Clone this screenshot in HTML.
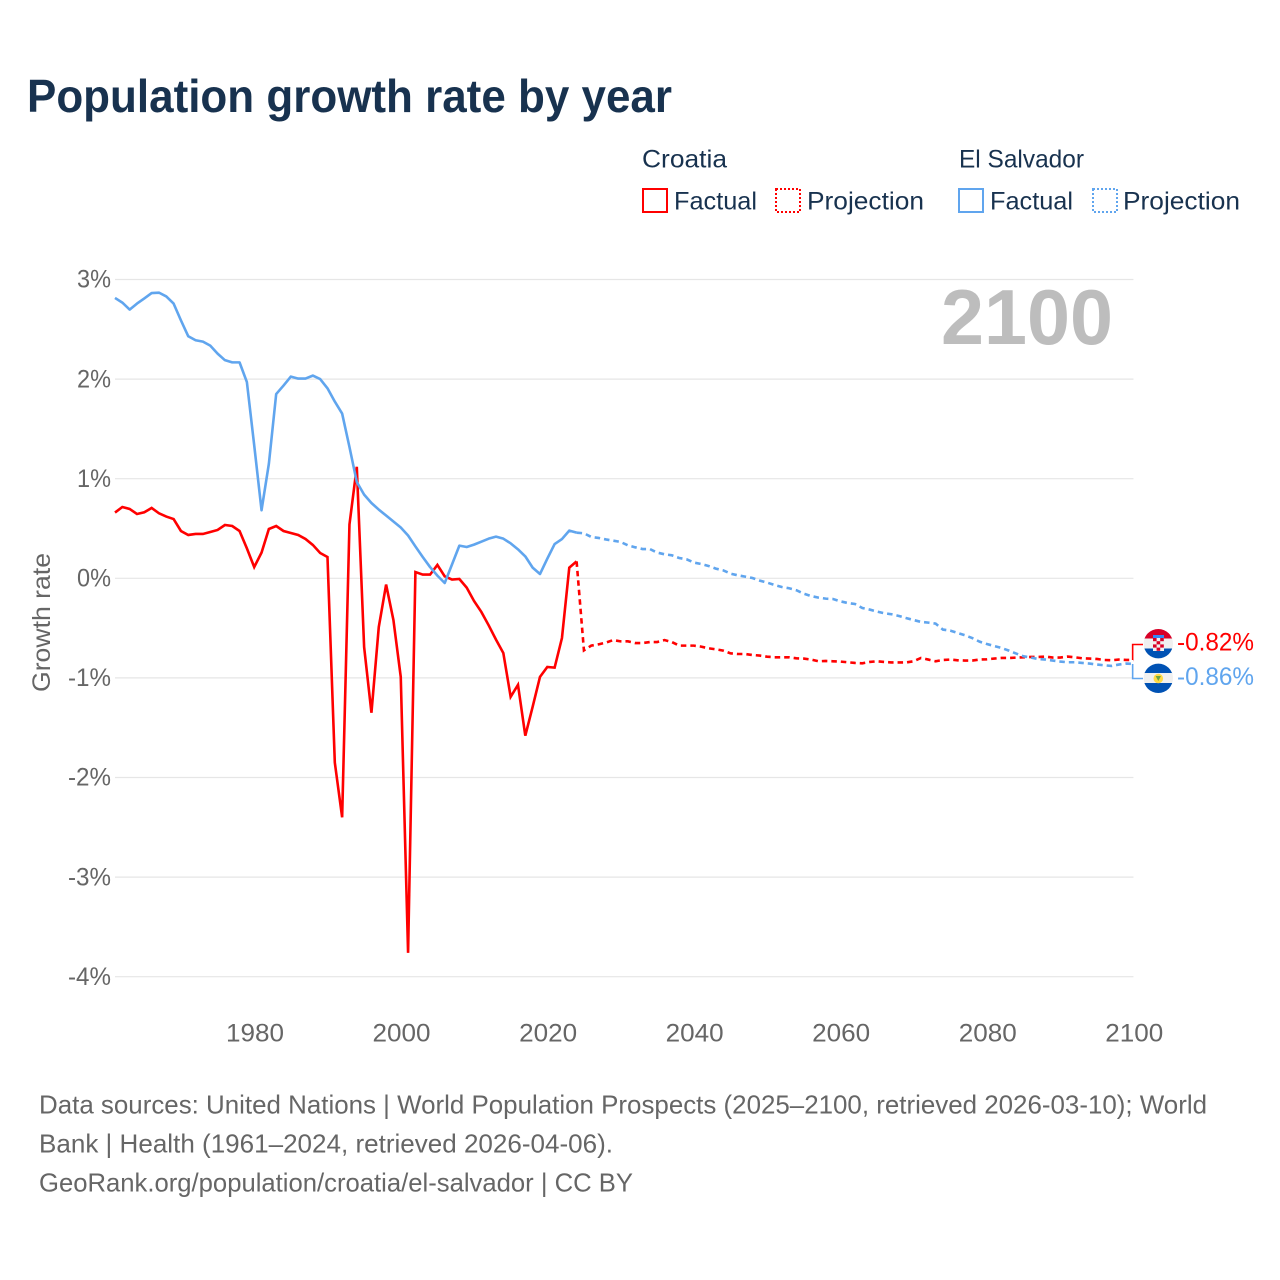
<!DOCTYPE html>
<html lang="en">
<head>
<meta charset="utf-8">
<title>Population growth rate by year</title>
<style>
html,body{margin:0;padding:0;background:#fff;}
svg{display:block;}
text{font-family:"Liberation Sans",sans-serif;}
</style>
</head>
<body>
<svg id="chart" xmlns="http://www.w3.org/2000/svg" width="1280" height="1280" viewBox="0 0 1280 1280">
  <rect x="0" y="0" width="1280" height="1280" fill="#ffffff"/>
  <text x="27" y="112" font-size="46" font-weight="700" fill="#18324f" textLength="645" lengthAdjust="spacingAndGlyphs">Population growth rate by year</text>

  <g fill="#18324f" font-size="25">
    <text x="642" y="167.5" textLength="85" lengthAdjust="spacingAndGlyphs">Croatia</text>
    <text x="959" y="167.5" textLength="125" lengthAdjust="spacingAndGlyphs">El Salvador</text>
    <rect x="643" y="189" width="24" height="23" fill="none" stroke="#ff0000" stroke-width="2"/>
    <text x="674" y="209.5" textLength="83" lengthAdjust="spacingAndGlyphs">Factual</text>
    <rect x="776" y="189" width="24" height="23" fill="none" stroke="#ff0000" stroke-width="2" stroke-dasharray="2,2"/>
    <text x="807" y="209.5" textLength="117" lengthAdjust="spacingAndGlyphs">Projection</text>
    <rect x="959" y="189" width="24" height="23" fill="none" stroke="#60a5ee" stroke-width="2"/>
    <text x="990" y="209.5" textLength="83" lengthAdjust="spacingAndGlyphs">Factual</text>
    <rect x="1093" y="189" width="24" height="23" fill="none" stroke="#60a5ee" stroke-width="2" stroke-dasharray="2,2"/>
    <text x="1123" y="209.5" textLength="117" lengthAdjust="spacingAndGlyphs">Projection</text>
  </g>

  <g id="grid"></g>
  <g id="y-ticks"></g>
  <g id="x-ticks"></g>
  <text transform="translate(50,622.5) rotate(-90)" text-anchor="middle" font-size="25" fill="#666666" textLength="139" lengthAdjust="spacingAndGlyphs">Growth rate</text>

  <text x="941" y="344" font-size="78" font-weight="700" fill="#bdbdbd" textLength="172" lengthAdjust="spacingAndGlyphs">2100</text>

  <g id="series"></g>

  <g id="end-markers"></g>

  <defs>
    <clipPath id="clip-flag-hr"><circle cx="1158.3" cy="643.7" r="14.7"/></clipPath>
    <clipPath id="clip-flag-sv"><circle cx="1158.3" cy="678.3" r="14.7"/></clipPath>
  </defs>
  <g clip-path="url(#clip-flag-hr)">
    <rect x="1143" y="628" width="31" height="11" fill="#d80027"/>
    <rect x="1143" y="638.5" width="31" height="10.5" fill="#f0f0f0"/>
    <rect x="1143" y="648.5" width="31" height="11" fill="#0052b4"/>
    <rect x="1153" y="635" width="11" height="3" fill="#338af3"/>
    <rect x="1153" y="638" width="11" height="13" fill="#f0f0f0"/>
    <rect x="1153" y="638" width="3.6" height="3.2" fill="#d80027"/>
    <rect x="1160.2" y="638" width="3.6" height="3.2" fill="#d80027"/>
    <rect x="1156.6" y="641.2" width="3.6" height="3.2" fill="#d80027"/>
    <rect x="1153" y="644.4" width="3.6" height="3.2" fill="#d80027"/>
    <rect x="1160.2" y="644.4" width="3.6" height="3.2" fill="#d80027"/>
    <rect x="1156.6" y="647.6" width="3.6" height="3.2" fill="#d80027"/>
  </g>
  <g clip-path="url(#clip-flag-sv)">
    <rect x="1143" y="663" width="31" height="10.5" fill="#0052b4"/>
    <rect x="1143" y="673" width="31" height="10.5" fill="#f0f0f0"/>
    <rect x="1143" y="683" width="31" height="11" fill="#0052b4"/>
    <circle cx="1158.3" cy="678.5" r="4.8" fill="#ffda44"/>
    <path d="M1155.6 676 L1161 676 L1158.3 681 Z" fill="#6da544"/>
  </g>

  <g fill="#666666" font-size="26">
    <text x="39" y="1113.5" textLength="1168" lengthAdjust="spacingAndGlyphs">Data sources: United Nations | World Population Prospects (2025–2100, retrieved 2026-03-10); World</text>
    <text x="39" y="1152.5" textLength="574" lengthAdjust="spacingAndGlyphs">Bank | Health (1961–2024, retrieved 2026-04-06).</text>
    <text x="39" y="1191.5" textLength="594" lengthAdjust="spacingAndGlyphs">GeoRank.org/population/croatia/el-salvador | CC BY</text>
  </g>
</svg>

<script>
const yTickValues = [3, 2, 1, 0, -1, -2, -3, -4];
const yTickLabels = ["3%", "2%", "1%", "0%", "-1%", "-2%", "-3%", "-4%"];
const xTickValues = [1980, 2000, 2020, 2040, 2060, 2080, 2100];
const xTickLabels = ["1980", "2000", "2020", "2040", "2060", "2080", "2100"];

const factualStartYear = 1961;
const projectionStartYear = 2024;

const croatiaFactual = [
  0.66, 0.716, 0.696, 0.646, 0.663, 0.706, 0.653, 0.62, 0.595, 0.475,
  0.435, 0.445, 0.445, 0.465, 0.485, 0.535, 0.525, 0.475, 0.30, 0.113,
  0.258, 0.495, 0.525, 0.475, 0.455, 0.435, 0.395, 0.335, 0.254, 0.214,
  -1.85, -2.40, 0.54, 1.12, -0.69, -1.35, -0.49, -0.063, -0.42, -0.99,
  -3.76, 0.063, 0.037, 0.037, 0.134, 0.02, -0.013, -0.007, -0.094, -0.228,
  -0.338, -0.472, -0.616, -0.75, -1.19, -1.07, -1.58, -1.29, -0.99, -0.89,
  -0.897, -0.60, 0.107, 0.17
];
const croatiaProjection = [
  0.17, -0.723, -0.676, -0.663, -0.646, -0.62, -0.633, -0.633, -0.65, -0.65,
  -0.64, -0.64, -0.62, -0.64, -0.676, -0.676, -0.676, -0.686, -0.703, -0.713,
  -0.726, -0.753, -0.76, -0.76, -0.77, -0.776, -0.787, -0.793, -0.793, -0.793,
  -0.803, -0.806, -0.816, -0.833, -0.83, -0.833, -0.836, -0.843, -0.85, -0.853,
  -0.84, -0.833, -0.84, -0.845, -0.845, -0.845, -0.833, -0.80, -0.816, -0.833,
  -0.82, -0.816, -0.823, -0.826, -0.826, -0.816, -0.813, -0.806, -0.80, -0.80,
  -0.796, -0.793, -0.79, -0.79, -0.786, -0.796, -0.796, -0.786, -0.793, -0.803,
  -0.806, -0.81, -0.82, -0.823, -0.816, -0.82, -0.82
];
const elSalvadorFactual = [
  2.815, 2.768, 2.698, 2.758, 2.81, 2.864, 2.868, 2.83, 2.758, 2.59,
  2.43, 2.39, 2.376, 2.336, 2.256, 2.19, 2.168, 2.168, 1.97, 1.335,
  0.683, 1.15, 1.85, 1.935, 2.025, 2.005, 2.005, 2.035, 2.0, 1.908,
  1.774, 1.654, 1.318, 0.967, 0.84, 0.756, 0.69, 0.63, 0.57, 0.51,
  0.43, 0.32, 0.214, 0.113, 0.027, -0.047, 0.14, 0.328, 0.314, 0.338,
  0.368, 0.398, 0.418, 0.398, 0.351, 0.291, 0.22, 0.107, 0.043, 0.197,
  0.344, 0.394, 0.479, 0.458
];
const elSalvadorProjection = [
  0.458, 0.452, 0.415, 0.405, 0.39, 0.378, 0.365, 0.331, 0.311, 0.294,
  0.294, 0.258, 0.241, 0.231, 0.204, 0.191, 0.158, 0.144, 0.124, 0.097,
  0.08, 0.047, 0.03, 0.017, 0.003, -0.023, -0.043, -0.067, -0.087, -0.10,
  -0.12, -0.154, -0.178, -0.194, -0.204, -0.208, -0.231, -0.248, -0.258, -0.298,
  -0.314, -0.334, -0.351, -0.361, -0.378, -0.40, -0.419, -0.438, -0.445, -0.455,
  -0.515, -0.525, -0.549, -0.572, -0.60, -0.636, -0.66, -0.68, -0.70, -0.726,
  -0.756, -0.783, -0.796, -0.81, -0.816, -0.826, -0.836, -0.843, -0.843, -0.85,
  -0.856, -0.866, -0.873, -0.88, -0.866, -0.856, -0.86
];

const SVG_NS = "http://www.w3.org/2000/svg";
const RED = "#ff0000";
const BLUE = "#60a5ee";

function xScale(year) {
  return 115 + (year - 1961) * 7.327;
}
function yScale(value) {
  return 578.3 - value * 99.6;
}
function pathFor(values, startYear) {
  return values.map(function (v, i) {
    return (i ? "L" : "M") + xScale(startYear + i).toFixed(2) + " " + yScale(v).toFixed(2);
  }).join(" ");
}
function make(tag, attrs) {
  const el = document.createElementNS(SVG_NS, tag);
  Object.keys(attrs).forEach(function (k) { el.setAttribute(k, attrs[k]); });
  return el;
}

const gridGroup = document.getElementById("grid");
const yGroup = document.getElementById("y-ticks");
yTickValues.forEach(function (v, i) {
  const line = make("line", { x1: 115, x2: xScale(2100), y1: yScale(v), y2: yScale(v), stroke: "#e6e6e6", "stroke-width": 1.2 });
  
  
  gridGroup.appendChild(line);

  const label = make("text", {
    x: 111, y: yScale(v) + 8.2, "text-anchor": "end", "font-size": 25, fill: "#666666",
    textLength: yTickLabels[i].length === 2 ? 34 : 43, lengthAdjust: "spacingAndGlyphs"
  });
  
  
  label.textContent = yTickLabels[i];
  yGroup.appendChild(label);
});

const xGroup = document.getElementById("x-ticks");
xTickValues.forEach(function (year, i) {
  const label = make("text", {
    x: xScale(year) + 0.8, y: 1041.7, "text-anchor": "middle", "font-size": 25, fill: "#666666",
    textLength: 58, lengthAdjust: "spacingAndGlyphs"
  });
  
  
  label.textContent = xTickLabels[i];
  xGroup.appendChild(label);
});

const seriesGroup = document.getElementById("series");

const croatiaFactualLine = make("path", { d: pathFor(croatiaFactual, factualStartYear), fill: "none", stroke: RED, "stroke-width": 2.6, "stroke-linejoin": "miter" });


seriesGroup.appendChild(croatiaFactualLine);

const croatiaProjectionLine = make("path", { d: pathFor(croatiaProjection, projectionStartYear), fill: "none", stroke: RED, "stroke-width": 2.6, "stroke-dasharray": "5.5,4" });


seriesGroup.appendChild(croatiaProjectionLine);

const salvadorFactualLine = make("path", { d: pathFor(elSalvadorFactual, factualStartYear), fill: "none", stroke: BLUE, "stroke-width": 2.6, "stroke-linejoin": "round" });


seriesGroup.appendChild(salvadorFactualLine);

const salvadorProjectionLine = make("path", { d: pathFor(elSalvadorProjection, projectionStartYear), fill: "none", stroke: BLUE, "stroke-width": 2.6, "stroke-dasharray": "5.5,4" });


seriesGroup.appendChild(salvadorProjectionLine);

const markerGroup = document.getElementById("end-markers");
const croatiaLast = croatiaProjection[croatiaProjection.length - 1];
const salvadorLast = elSalvadorProjection[elSalvadorProjection.length - 1];
const endX = xScale(2100) - 0.8;

const croatiaBracket = make("path", { d: "M" + endX + " " + yScale(croatiaLast) + " V644.5 H1143", fill: "none", stroke: RED, "stroke-width": 1.6 });


markerGroup.appendChild(croatiaBracket);

const salvadorBracket = make("path", { d: "M" + endX + " " + yScale(salvadorLast) + " V678.5 H1143", fill: "none", stroke: BLUE, "stroke-width": 1.6 });


markerGroup.appendChild(salvadorBracket);

const croatiaValue = make("text", { x: 1177, y: 650.5, "font-size": 25, fill: RED, textLength: 77, lengthAdjust: "spacingAndGlyphs" });


croatiaValue.textContent = croatiaLast.toFixed(2) + "%";
markerGroup.appendChild(croatiaValue);

const salvadorValue = make("text", { x: 1177, y: 685, "font-size": 25, fill: BLUE, textLength: 77, lengthAdjust: "spacingAndGlyphs" });


salvadorValue.textContent = salvadorLast.toFixed(2) + "%";
markerGroup.appendChild(salvadorValue);
</script>
</body>
</html>
